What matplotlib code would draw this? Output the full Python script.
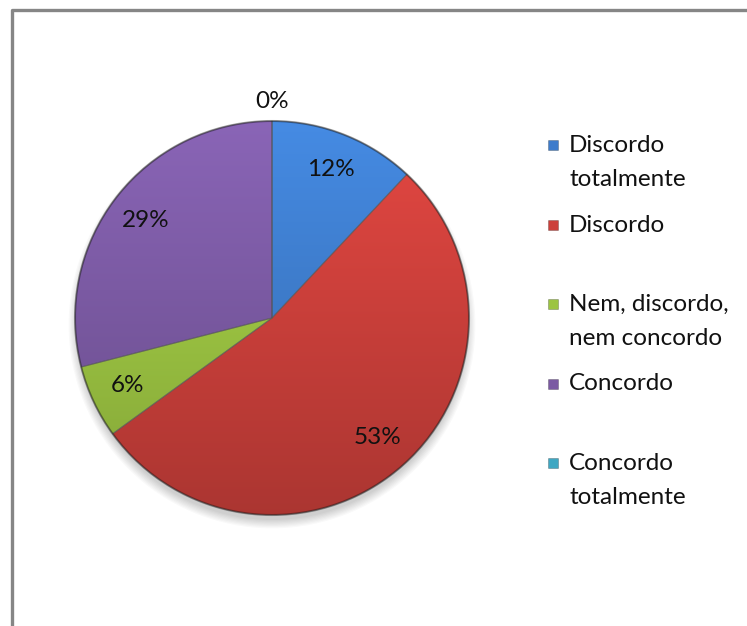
import numpy as np
import matplotlib.pyplot as plt
from matplotlib.patches import Rectangle, Circle
from matplotlib.lines import Line2D

labels = ['Discordo\ntotalmente', 'Discordo', 'Nem, discordo,\nnem concordo',
          'Concordo', 'Concordo\ntotalmente']
values = [12, 53, 6, 29, 0]
colors = ['#3e7ccb', '#cc403b', '#9cc442', '#7b5aa3', '#3fa7c2']

plt.rcParams['font.family'] = ['Lato', 'DejaVu Sans']

W, H = 747, 626
fig = plt.figure(figsize=(W / 100, H / 100), dpi=100)
ax = fig.add_axes([0, 0, 1, 1])

cx, cy, R = 272, H - 318, 197

# soft shadow under the pie
for k in range(8):
    ax.add_patch(Circle((cx, cy - 7), R - 2 + k * 1.2, color='black',
                        alpha=0.022, lw=0, zorder=0))

wedges, _, autotexts = ax.pie(values, colors=colors, startangle=90, counterclock=False,
                              center=(cx, cy), radius=R, autopct='%1.0f%%',
                              pctdistance=0.81, frame=True,
                              wedgeprops=dict(edgecolor='#55555580', linewidth=0.8),
                              textprops=dict(fontsize=17.5, color='#111111'))

# vertical shading on each slice
yy = np.linspace(1, 0, 200)[:, None] * np.ones((1, 2))
for w, c in zip(wedges, colors):
    base = np.array(plt.matplotlib.colors.to_rgb(c))
    shade = 1.12 - 0.28 * (1 - yy)
    img = np.clip(base[None, None, :] * shade[:, :, None], 0, 1)
    im = ax.imshow(img, extent=(cx - R, cx + R, cy - R, cy + R), aspect='auto',
                   zorder=1.5, interpolation='bilinear')
    im.set_clip_path(w)
    w.set_zorder(1.6)
    w.set_facecolor('none')
ax.set_xlim(0, W)
ax.set_ylim(0, H)
ax.axis('off')
# thin dark rim
ax.add_patch(Circle((cx, cy), R, fill=False, ec='#00000055', lw=1.5, zorder=1.7))

for w, t, v in zip(wedges, autotexts, values):
    t.set_zorder(3)
    if v == 0:
        ang = np.deg2rad((w.theta1 + w.theta2) / 2)
        t.set_position((cx + 1.1 * R * np.cos(ang), cy + 1.1 * R * np.sin(ang)))

# legend, one equal slot per entry
for i, (lab, c) in enumerate(zip(labels, colors)):
    ytop = H - (135 + 79.5 * i)
    ax.add_patch(Rectangle((548, ytop - 15), 10, 10, facecolor=c,
                           edgecolor='#00000040', lw=0.6))
    ax.text(569, ytop, lab, fontsize=17.5, va='top', ha='left',
            color='#111111', linespacing=1.75)

# chart area border (top and left edges)
fig.add_artist(Line2D([11.5 / W, 11.5 / W, 1], [0, 1 - 9.5 / H, 1 - 9.5 / H],
                      transform=fig.transFigure, color='#868686', lw=2.4))

fig.savefig('out.png', dpi=100)
